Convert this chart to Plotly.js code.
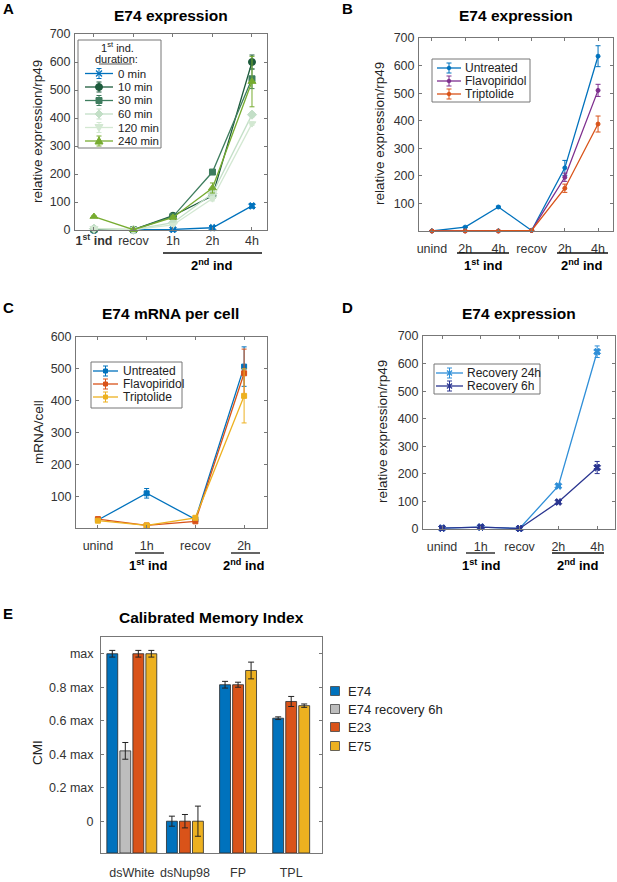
<!DOCTYPE html>
<html><head><meta charset="utf-8">
<script src="https://cdn.plot.ly/plotly-3.0.1.min.js"></script>
<style>html,body{margin:0;padding:0;background:#fff}#chart{width:617px;height:882px}</style>
</head><body><div id="chart"></div>
<script>
// ---------------- DATA ----------------
// Panel A
const A_cats = ['<b>1<sup>st</sup> ind</b>', 'recov', '1h', '2h', '4h'];
const A_names = ['0 min', '10 min', '30 min', '60 min', '120 min', '240 min'];
const A_0min   = [0, 1, 2, 8, 86];
const A_0min_err   = [0.5, 0.5, 1, 2, 7];
const A_10min  = [1, 1, 51, 122, 600];
const A_10min_err  = [0.5, 0.5, 5, 8, 25];
const A_30min  = [2, 1, 48, 207, 540];
const A_30min_err  = [0.5, 0.5, 4, 6, 35];
const A_60min  = [5, 1, 26, 130, 412];
const A_60min_err  = [1, 0.5, 3, 10, 8];
const A_120min = [6, 1, 18, 112, 380];
const A_120min_err = [1, 0.5, 3, 8, 6];
const A_240min = [48, 1, 45, 150, 530];
const A_240min_err = [3, 0.5, 5, 18, 90];

// Panel B
const B_cats = ['unind', '2h', '4h', 'recov', '2h', '4h'];
const B_names = ['Untreated', 'Flavopiridol', 'Triptolide'];
const B_untreated = [0, 14, 87, 2, 229, 634];
const B_untreated_err = [0.5, 1.5, 3, 1, 27, 38];
const B_flavo = [0, 0, 0, 2, 195, 510];
const B_flavo_err = [0, 0, 0, 1, 15, 22];
const B_trip = [0, 0, 0, 2, 155, 388];
const B_trip_err = [0, 0, 0, 1, 15, 29];

// Panel C
const C_cats = ['unind', '1h', 'recov', '2h'];
const C_names = ['Untreated', 'Flavopiridol', 'Triptolide'];
const C_untreated = [25, 109, 27, 507];
const C_untreated_err = [3, 15, 3, 62];
const C_flavo = [28, 8, 21, 486];
const C_flavo_err = [3, 2, 3, 76];
const C_trip = [23, 8, 32, 415];
const C_trip_err = [3, 2, 5, 85];

// Panel D
const D_cats = ['unind', '1h', 'recov', '2h', '4h'];
const D_names = ['Recovery 24h', 'Recovery 6h'];
const D_rec24 = [3, 7, 2, 156, 643];
const D_rec24_err = [1, 1, 1, 4, 21];
const D_rec6 = [3, 7, 2, 98, 223];
const D_rec6_err = [1, 1, 1, 4, 22];

// Panel E
const E_groups = ['dsWhite', 'dsNup98', 'FP', 'TPL'];
const E_names = ['E74', 'E74 recovery 6h', 'E23', 'E75'];
const E_E74 = [1.0, 0, 0.815, 0.615];
const E_E74_err = [0.02, 0.03, 0.02, 0.008];
const E_E74rec = [0.42, null, null, null];
const E_E74rec_err = [0.05, null, null, null];
const E_E23 = [1.0, 0, 0.815, 0.715];
const E_E23_err = [0.02, 0.04, 0.015, 0.03];
const E_E75 = [1.0, 0, 0.90, 0.69];
const E_E75_err = [0.02, 0.09, 0.05, 0.01];
const E_ticks = [0, 0.2, 0.4, 0.6, 0.8, 1];
const E_ticktext = ['0', '0.2 max', '0.4 max', '0.6 max', '0.8 max', 'max'];
const E_yrange = [-0.19, 1.1];

// ---------------- HELPERS ----------------
const W = 617, H = 882;
const FONT = 'Liberation Sans, Arial, Helvetica, sans-serif';
const px = x => x / W, py = y => 1 - y / H;
const shapes = [], annotations = [], traces = [];

function text(x, y, t, size, opts) {
  annotations.push(Object.assign({xref:'paper', yref:'paper', x:px(x), y:py(y), text:t, showarrow:false,
    xanchor:'center', yanchor:'middle', font:{family:FONT, size:size, color:'#000'}}, opts || {}));
}
function hline(x0, x1, y, color, w) {
  shapes.push({type:'line', xref:'paper', yref:'paper', x0:px(x0), x1:px(x1), y0:py(y), y1:py(y), line:{color:color, width:w}});
}
function vline(x, y0, y1, color, w) {
  shapes.push({type:'line', xref:'paper', yref:'paper', x0:px(x), x1:px(x), y0:py(y0), y1:py(y1), line:{color:color, width:w}});
}
function pathShape(pts, color, fill) {
  const d = pts.map((p, i) => (i ? 'L' : 'M') + px(p[0]).toFixed(5) + ',' + py(p[1]).toFixed(5)).join(' ') + ' Z';
  shapes.push({type:'path', xref:'paper', yref:'paper', path:d, line:{color:color, width:1}, fillcolor:fill});
}
function markerGlyph(cx, cy, sym, color, r) {
  if (sym === 'circle') {
    shapes.push({type:'circle', xref:'paper', yref:'paper', x0:px(cx-r), x1:px(cx+r), y0:py(cy+r), y1:py(cy-r), line:{color:color, width:1}, fillcolor:color});
  } else if (sym === 'square') {
    shapes.push({type:'rect', xref:'paper', yref:'paper', x0:px(cx-r), x1:px(cx+r), y0:py(cy+r), y1:py(cy-r), line:{color:color, width:1}, fillcolor:color});
  } else if (sym === 'diamond') {
    pathShape([[cx, cy-r-1], [cx+r+1, cy], [cx, cy+r+1], [cx-r-1, cy]], color, color);
  } else if (sym === 'triangle-up') {
    pathShape([[cx, cy-r-1], [cx+r+1, cy+r], [cx-r-1, cy+r]], color, color);
  } else if (sym === 'triangle-down') {
    pathShape([[cx, cy+r+1], [cx+r+1, cy-r], [cx-r-1, cy-r]], color, color);
  } else if (sym === 'x') {
    shapes.push({type:'line', xref:'paper', yref:'paper', x0:px(cx-r), x1:px(cx+r), y0:py(cy-r), y1:py(cy+r), line:{color:color, width:1.2}});
    shapes.push({type:'line', xref:'paper', yref:'paper', x0:px(cx-r), x1:px(cx+r), y0:py(cy+r), y1:py(cy-r), line:{color:color, width:1.2}});
  }
}
function legendBox(x0, y0, x1, y1) {
  shapes.push({type:'rect', xref:'paper', yref:'paper', x0:px(x0), x1:px(x1), y0:py(y1), y1:py(y0),
    line:{color:'#777', width:1}, fillcolor:'#fff'});
}
function legendItem(lx0, lx1, cy, color, sym, r, name, tx, fs) {
  const mx = (lx0 + lx1) / 2;
  hline(lx0, lx1, cy, color, 1.3);
  vline(mx, cy - 5, cy + 5, color, 1);
  hline(mx - 2.5, mx + 2.5, cy - 5, color, 1);
  hline(mx - 2.5, mx + 2.5, cy + 5, color, 1);
  markerGlyph(mx, cy, sym, color, r);
  text(tx, cy, name, fs, {xanchor:'left', font:{family:FONT, size:fs, color:'#222'}});
}
function lineTrace(n, cats, vals, errs, color, sym, size) {
  return {type:'scatter', mode:'lines+markers', xaxis:'x' + n, yaxis:'y' + n,
    x:cats.map((_, i) => i + 1), y:vals,
    error_y:{type:'data', array:errs, visible:true, color:color, thickness:1, width:2.5},
    line:{color:color, width:1.3}, marker:{symbol:sym, size:size, color:color, line:{color:color, width:1}},
    showlegend:false, cliponaxis:false, hoverinfo:'skip'};
}
function xAxis(cats, domain, range, standoff, extra) {
  return Object.assign({domain:domain, range:range, tickvals:cats.map((_, i) => i + 1), ticktext:cats,
    showgrid:false, zeroline:false, showline:true, linecolor:'#777', linewidth:1, mirror:'ticks',
    ticks:'inside', ticklen:3, tickcolor:'#777', ticklabelstandoff:standoff,
    tickfont:{family:FONT, size:12.5, color:'#333'}, fixedrange:true}, extra || {});
}
function yAxis(domain, range, tickvals, extra) {
  return Object.assign({domain:domain, range:range, tickvals:tickvals,
    showgrid:false, zeroline:false, showline:true, linecolor:'#777', linewidth:1, mirror:'ticks',
    ticks:'inside', ticklen:3, tickcolor:'#777', ticklabelstandoff:1,
    tickfont:{family:FONT, size:12.5, color:'#333'}, fixedrange:true}, extra || {});
}
const steps = (a, b, s) => { const r = []; for (let v = a; v <= b; v += s) r.push(v); return r; };

// ---------------- PANEL A ----------------
const A_series = [
  [A_0min, A_0min_err, '#0072BD', 'x', 6, 'x', 3],
  [A_10min, A_10min_err, '#1d5b3c', 'circle', 7, 'circle', 3.5],
  [A_30min, A_30min_err, '#3e7d5e', 'square', 6, 'square', 3],
  [A_60min, A_60min_err, '#c3dfc7', 'diamond', 7, 'diamond', 3],
  [A_120min, A_120min_err, '#d3e8d2', 'triangle-down', 7, 'triangle-down', 3],
  [A_240min, A_240min_err, '#77AC30', 'triangle-up', 7, 'triangle-up', 3]
];
A_series.forEach(s => traces.push(lineTrace(1, A_cats, s[0], s[1], s[2], s[3], s[4])));

// ---------------- PANEL B ----------------
const B_series = [
  [B_untreated, B_untreated_err, '#0072BD'],
  [B_flavo, B_flavo_err, '#7E2F8E'],
  [B_trip, B_trip_err, '#D95319']
];
B_series.forEach(s => traces.push(lineTrace(2, B_cats, s[0], s[1], s[2], 'circle', 4)));

// ---------------- PANEL C ----------------
const C_series = [
  [C_untreated, C_untreated_err, '#0072BD'],
  [C_flavo, C_flavo_err, '#D95319'],
  [C_trip, C_trip_err, '#EDB120']
];
C_series.forEach(s => traces.push(lineTrace(3, C_cats, s[0], s[1], s[2], 'square', 5)));

// ---------------- PANEL D ----------------
const D_series = [
  [D_rec24, D_rec24_err, '#2f8fd8'],
  [D_rec6, D_rec6_err, '#2a3590']
];
D_series.forEach(s => traces.push(lineTrace(4, D_cats, s[0], s[1], s[2], 'x', 6)));

// ---------------- PANEL E ----------------
const E_vals = [E_E74, E_E74rec, E_E23, E_E75];
const E_errs = [E_E74_err, E_E74rec_err, E_E23_err, E_E75_err];
const E_colors = ['#0072BD', '#BDBDBD', '#D95319', '#EDB120'];
const E_STEP = 0.245, E_W = 0.205, E_BASE = E_yrange[0];
const E_present = E_groups.map((g, gi) => E_vals.map((v, si) => v[gi] != null ? si : -1).filter(s => s >= 0));
E_vals.forEach((vals, si) => {
  const xs = [], ys = [], es = [];
  vals.forEach((v, gi) => {
    if (v == null) return;
    const pr = E_present[gi], k = pr.indexOf(si), n = pr.length;
    xs.push(gi + 1 + (k - (n - 1) / 2) * E_STEP); ys.push(v - E_BASE); es.push(E_errs[si][gi]);
  });
  traces.push({type:'bar', xaxis:'x5', yaxis:'y5', x:xs, y:ys, base:E_BASE, width:E_W,
    marker:{color:E_colors[si], line:{color:'#2a2a2a', width:0.8}},
    error_y:{type:'data', array:es, visible:true, color:'#222', thickness:1, width:3},
    showlegend:false, hoverinfo:'skip', cliponaxis:true});
});

// ---------------- TEXT / DECOR ----------------
// panel letters
text(8, 8, '<b>A</b>', 15); text(348, 8, '<b>B</b>', 15);
text(8, 307, '<b>C</b>', 15); text(348, 307, '<b>D</b>', 15);
text(8, 613, '<b>E</b>', 15);
// titles
text(171, 16, '<b>E74 expression</b>', 15.5);
text(516, 16, '<b>E74 expression</b>', 15.5);
text(171, 313, '<b>E74 mRNA per cell</b>', 15.5);
text(519, 313, '<b>E74 expression</b>', 15.5);
text(211, 617, '<b>Calibrated Memory Index</b>', 15.5);
// y titles
const ytf = {family:FONT, size:13.5, color:'#222'};
text(38, 132, 'relative expression/rp49', 13.5, {textangle:-90, font:ytf});
text(380, 134, 'relative expression/rp49', 13.5, {textangle:-90, font:ytf});
text(38, 432, 'mRNA/cell', 13.5, {textangle:-90, font:ytf});
text(382, 432, 'relative expression/rp49', 13.5, {textangle:-90, font:ytf});
text(37, 753, 'CMI', 13.5, {textangle:-90, font:ytf});
// group underlines and labels
const gl = {family:FONT, size:13, color:'#000'};
hline(163, 262, 253, '#111', 1.3); text(212, 265, '<b>2<sup>nd</sup> ind</b>', 13, {font:gl});
hline(457, 509, 253, '#111', 1.3); text(483, 265, '<b>1<sup>st</sup> ind</b>', 13, {font:gl});
hline(557, 608, 253, '#111', 1.3); text(582, 265, '<b>2<sup>nd</sup> ind</b>', 13, {font:gl});
hline(135, 164, 553, '#111', 1.3); text(148, 565, '<b>1<sup>st</sup> ind</b>', 13, {font:gl});
hline(231, 260, 553, '#111', 1.3); text(244, 565, '<b>2<sup>nd</sup> ind</b>', 13, {font:gl});
hline(466, 495, 553, '#111', 1.3); text(481, 565, '<b>1<sup>st</sup> ind</b>', 13, {font:gl});
hline(552, 604, 553, '#111', 1.3); text(578, 565, '<b>2<sup>nd</sup> ind</b>', 13, {font:gl});

// legend A
legendBox(78, 40, 161, 148);
text(117, 46.5, '1<sup>st</sup> ind.', 11, {font:{family:FONT, size:11, color:'#222'}});
text(116, 58.5, 'duration:', 11, {font:{family:FONT, size:11, color:'#222'}});
hline(99, 132, 64, '#555', 1);
const A_rows = [73.5, 87, 100.5, 114, 127.5, 141];
A_series.forEach((s, i) => legendItem(85, 113, A_rows[i], s[2], s[5], s[6], A_names[i], 116, 11.5));
// legend B
legendBox(432, 59, 530, 102);
[68, 81, 94].forEach((y, i) => legendItem(437, 461, y, B_series[i][2], 'circle', 1.8, B_names[i], 463, 12));
// legend C
legendBox(91, 362, 182, 408);
[371, 384, 397].forEach((y, i) => legendItem(93, 118, y, C_series[i][2], 'square', 2, C_names[i], 121, 12));
// legend D
legendBox(434, 364, 540, 394);
[373, 386].forEach((y, i) => legendItem(436, 463, y, D_series[i][2], 'x', 2.5, D_names[i], 465, 12));
// legend E
[691, 709, 727, 746].forEach((y, i) => {
  shapes.push({type:'rect', xref:'paper', yref:'paper', x0:px(330.5), x1:px(339.5), y0:py(y + 4.5), y1:py(y - 4.5),
    line:{color:'#444', width:0.8}, fillcolor:E_colors[i]});
  text(346, y, E_names[i], 13, {xanchor:'left', font:{family:FONT, size:13, color:'#222'}});
});

// ---------------- LAYOUT ----------------
const layout = {
  width:W, height:H, margin:{l:0, r:0, t:0, b:0}, paper_bgcolor:'#fff', plot_bgcolor:'#fff',
  showlegend:false, barmode:'overlay', font:{family:FONT},
  xaxis:  xAxis(A_cats, [px(75), px(267)], [0.52, 5.38], -1, {anchor:'y'}),
  yaxis:  yAxis([py(230), py(34)], [0, 700], steps(0, 700, 100), {anchor:'x'}),
  xaxis2: xAxis(B_cats, [px(419), px(613)], [0.61, 6.45], 6, {anchor:'y2'}),
  yaxis2: yAxis([py(231), py(38)], [0, 700], steps(100, 700, 100), {anchor:'x2'}),
  xaxis3: xAxis(C_cats, [px(76), px(267)], [0.55, 4.47], 6, {anchor:'y3'}),
  yaxis3: yAxis([py(528), py(337)], [0, 600], steps(100, 600, 100), {anchor:'x3'}),
  xaxis4: xAxis(D_cats, [px(423), px(615)], [0.51, 5.46], 6, {anchor:'y4'}),
  yaxis4: yAxis([py(529), py(336)], [0, 700], steps(0, 700, 100), {anchor:'x4'}),
  xaxis5: xAxis(E_groups, [px(101), px(322)], [0.42, 4.58], 8, {anchor:'y5', ticks:'', mirror:true}),
  yaxis5: yAxis([py(853), py(637)], E_yrange, E_ticks, {anchor:'x5', ticktext:E_ticktext, ticklabelstandoff:4}),
  shapes:shapes, annotations:annotations
};
Plotly.newPlot('chart', traces, layout, {staticPlot:true, displayModeBar:false});
</script></body></html>
